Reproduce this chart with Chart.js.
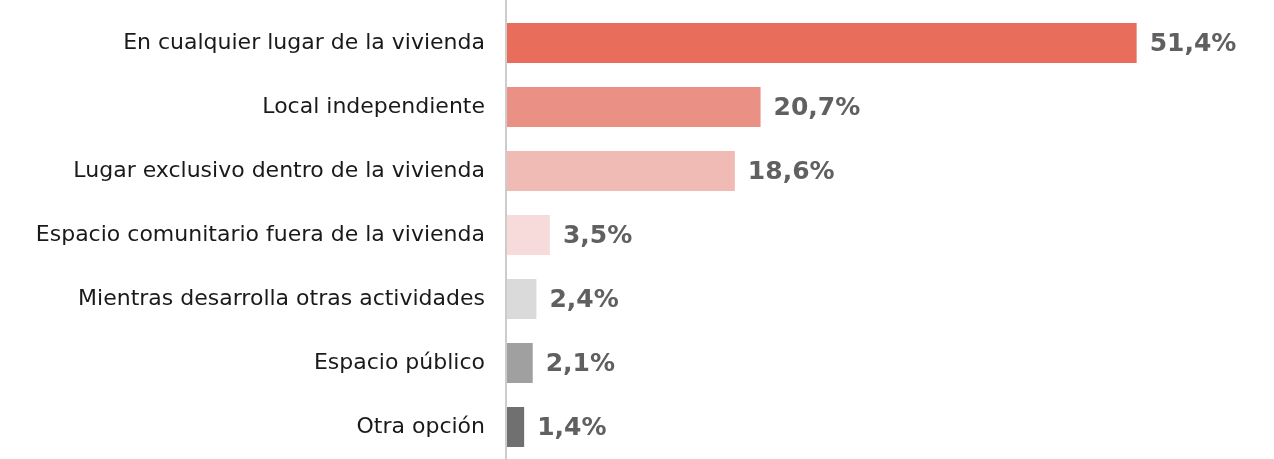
<!DOCTYPE html>
<html>
<head>
<meta charset="utf-8">
<script src="https://cdn.jsdelivr.net/npm/chart.js@4/dist/chart.umd.min.js"></script>
<style>
html,body{margin:0;padding:0;background:#fff;}
#wrap{width:1274px;height:459px;position:relative;}
</style>
</head>
<body>
<div id="wrap"><canvas id="c" width="1274" height="459"></canvas></div>
<script>
const categories = [
  "En cualquier lugar de la vivienda",
  "Local independiente",
  "Lugar exclusivo dentro de la vivienda",
  "Espacio comunitario fuera de la vivienda",
  "Mientras desarrolla otras actividades",
  "Espacio público",
  "Otra opción"
];
const values = [51.4, 20.7, 18.6, 3.5, 2.4, 2.1, 1.4];
const valueLabels = ["51,4%", "20,7%", "18,6%", "3,5%", "2,4%", "2,1%", "1,4%"];
const barColors = ["#E86D5A", "#EA9084", "#F0BBB5", "#F7DADA", "#DADADA", "#A0A0A0", "#707070"];

const valueLabelPlugin = {
  id: 'valueLabels',
  afterDatasetsDraw(chart) {
    const ctx = chart.ctx;
    const meta = chart.getDatasetMeta(0);
    ctx.save();
    ctx.font = 'bold 25px "DejaVu Sans"';
    ctx.fillStyle = '#606060';
    ctx.textBaseline = 'middle';
    ctx.textAlign = 'left';
    meta.data.forEach((bar, i) => {
      ctx.fillText(valueLabels[i], bar.x + 13, bar.y + 1);
    });
    ctx.restore();
  }
};

const axisLinePlugin = {
  id: 'axisLine',
  afterDraw(chart) {
    const ctx = chart.ctx;
    const x = chart.scales.x.getPixelForValue(0);
    ctx.save();
    ctx.strokeStyle = '#CCCCCC';
    ctx.lineWidth = 2;
    ctx.beginPath();
    ctx.moveTo(x - 1, 0);
    ctx.lineTo(x - 1, chart.height);
    ctx.stroke();
    ctx.restore();
  }
};

new Chart(document.getElementById('c'), {
  type: 'bar',
  data: {
    labels: categories,
    datasets: [{
      data: values,
      backgroundColor: barColors,
      borderWidth: 0,
      barPercentage: 1,
      categoryPercentage: 0.625
    }]
  },
  options: {
    indexAxis: 'y',
    responsive: false,
    animation: false,
    layout: { padding: { top: 11, right: 32, bottom: 0, left: 0 } },
    plugins: { legend: { display: false }, tooltip: { enabled: false } },
    scales: {
      x: {
        min: 0, max: 60,
        display: false,
        grid: { display: false }
      },
      y: {
        grid: { display: false, drawTicks: false },
        border: { display: false },
        ticks: {
          color: '#1A1A1A',
          font: { family: '"DejaVu Sans"', size: 22 },
          padding: 22
        },
        afterFit(scale) {
          scale.width = 507;
          scale.paddingTop = 0;
          scale.paddingBottom = 0;
        }
      }
    }
  },
  plugins: [valueLabelPlugin, axisLinePlugin]
});
</script>
</body>
</html>
